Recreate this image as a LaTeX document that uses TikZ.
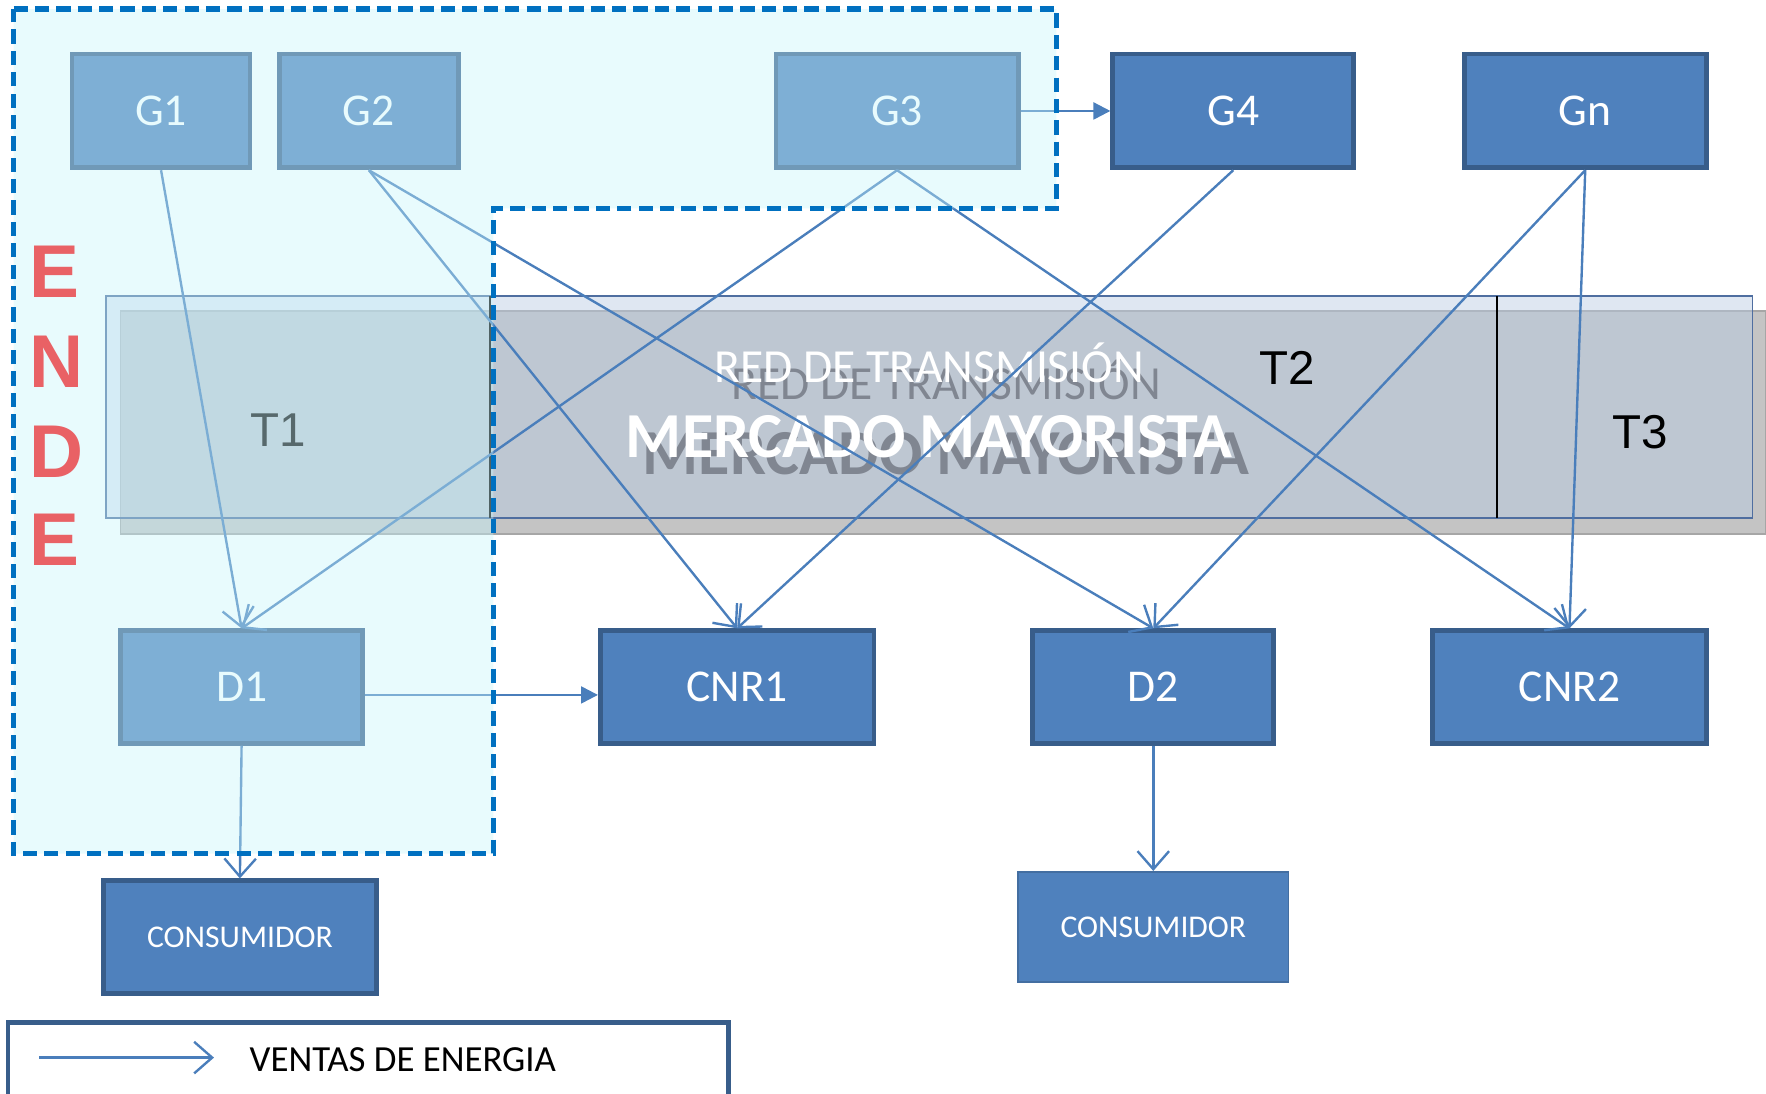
\documentclass[tikz,border=0pt]{standalone}
\usepackage{fontspec}
\setmainfont{Carlito}
\newfontfamily\arialfont{Liberation Sans}
\usepackage{xcolor}
\usepackage{tikz}
\usetikzlibrary{arrows.meta, positioning}
\definecolor{boxblue}{RGB}{79,129,189}
\definecolor{boxline}{RGB}{56,93,138}
\definecolor{endefill}{RGB}{198,245,251}
\definecolor{endeline}{RGB}{0,112,192}
\definecolor{endered}{RGB}{233,97,101}
\definecolor{bandfill}{RGB}{185,203,227}
\definecolor{bandline}{RGB}{79,110,160}
\definecolor{shadowgray}{RGB}{196,196,196}
\definecolor{textshadow}{RGB}{128,134,145}
\definecolor{saleblue}{RGB}{74,126,187}

\begin{document}
\begin{tikzpicture}[
    x=0.1mm, y=-0.1mm,
    agent/.style={rectangle, draw=boxline, fill=boxblue, line width=1.2pt, inner sep=0pt, minimum height=10.1mm, text=white, font=\fontsize{11.5pt}{13pt}\selectfont},
    consumer/.style={rectangle, draw=boxline, fill=boxblue, line width=1.2pt, inner sep=0pt, minimum width=24.2mm, minimum height=10mm, text=white, font=\fontsize{8pt}{10pt}\selectfont},
    zone/.style={anchor=base, font=\arialfont\fontsize{12pt}{14pt}\selectfont},
    endeletter/.style={anchor=base west, inner sep=0pt, text=endered, font=\arialfont\bfseries\fontsize{18.9pt}{20pt}\selectfont},
    sale/.style={-{Straight Barb[length=1.6mm,width=2.8mm]}, draw=saleblue, line width=0.6pt},
    link/.style={-{Triangle[length=1.5mm,width=1.5mm]}, draw=saleblue, line width=0.6pt}
]
\useasboundingbox (0,0) rectangle (1568,970.5);

% Transmission band
\draw[fill=shadowgray, draw=black!35, line width=0.4pt] (107,276) rectangle (1568,474);
\draw[draw=bandline, line width=0.5pt, fill=bandfill, fill opacity=0.46] (94,263) rectangle (1556,460);
\draw[black, line width=0.6pt] (435,263) -- (435,460);
\draw[black, line width=0.6pt] (1329,263) -- (1329,460);

\node[anchor=base, text=textshadow, font=\fontsize{12pt}{14pt}\selectfont] (redshadow) at (840,355) {RED DE TRANSMISIÓN};
\node[anchor=base, text=white, font=\fontsize{12pt}{14pt}\selectfont] (red) at (825,340) {RED DE TRANSMISIÓN};
\node[anchor=base, text=textshadow, font=\bfseries\fontsize{16.2pt}{18pt}\selectfont] (mmshadow) at (840,421) {MERCADO MAYORISTA};
\node[anchor=base, text=white, font=\bfseries\fontsize{16.2pt}{18pt}\selectfont] (mm) at (825,406) {MERCADO MAYORISTA};

\node[zone, text=black!95] (t1) at (247,396) {T1};
\node[zone] (t2) at (1143,341) {T2};
\node[zone] (t3) at (1456,398) {T3};

% Generators
\node[agent, minimum width=15.8mm] (g1) at (143,98.5) {G1};
\node[agent, minimum width=15.9mm] (g2) at (327.5,98.5) {G2};
\node[agent, minimum width=21.5mm] (g3) at (796.5,98.5) {G3};
\node[agent, minimum width=21.4mm] (g4) at (1095,98.5) {G4};
\node[agent, minimum width=21.5mm] (gn) at (1407.5,98.5) {Gn};

% Distributors and non regulated consumers
\node[agent, minimum width=21.5mm, minimum height=10mm] (d1) at (214.5,610) {D1};
\node[agent, minimum width=24.3mm, minimum height=10mm] (cnr1) at (654.5,610) {CNR1};
\node[agent, minimum width=21.4mm, minimum height=10mm] (d2) at (1024,610) {D2};
\node[agent, minimum width=24.3mm, minimum height=10mm] (cnr2) at (1393.5,610) {CNR2};

% Consumers
\node[consumer] (cons1) at (213,832) {CONSUMIDOR};
\node[consumer, draw=boxblue!85!black, line width=0.4pt, minimum width=24mm, minimum height=9.8mm] (cons2) at (1024,823) {CONSUMIDOR};

% Energy sales
\draw[sale] (g1.south) -- (d1.north);
\draw[sale] (g2.south) -- (cnr1.north);
\draw[sale] (g2.south) -- (d2.north);
\draw[sale] (g3.south) -- (d1.north);
\draw[sale] (g3.south) -- (cnr2.north);
\draw[sale] (g4.south) -- (cnr1.north);
\draw[sale] (gn.south) -- (d2.north);
\draw[sale] (gn.south) -- (cnr2.north);
\draw[link] (g3.east) -- (g4.west);
\draw[link] ([yshift=-0.7mm]d1.east) -- ([yshift=-0.7mm]cnr1.west);
\draw[sale] (d1.south) -- (cons1.north);
\draw[sale] (d2.south) -- (cons2.north);

% ENDE zone
\fill[endefill, fill opacity=0.4] (12,8) -- (938,8) -- (938,185) -- (438,185) -- (438,758) -- (12,758) -- cycle;
\draw[endeline, line width=1.3pt, dash pattern=on 3.6pt off 1.8pt] (12,8) -- (938,8) -- (938,185) -- (438,185) -- (438,758) -- (12,758) -- cycle;

\node[endeletter] (e1) at (25.5,264) {E};
\node[endeletter] (n) at (25.5,344) {N};
\node[endeletter] (d) at (25.5,423.5) {D};
\node[endeletter] (e2) at (25.5,502) {E};

% Legend
\node[draw=boxline, line width=1.2pt, fill=white, minimum width=64mm, minimum height=9mm, anchor=north west] (legend) at (5,906) {};
\coordinate (legstart) at (35,939);
\coordinate (legend end) at (190,939);
\draw[sale] (legstart) -- (legend end);
\node[anchor=base west, inner sep=0pt, font=\fontsize{9.3pt}{11pt}\selectfont] (legtext) at (221,951) {VENTAS DE ENERGIA};

\end{tikzpicture}
\end{document}
